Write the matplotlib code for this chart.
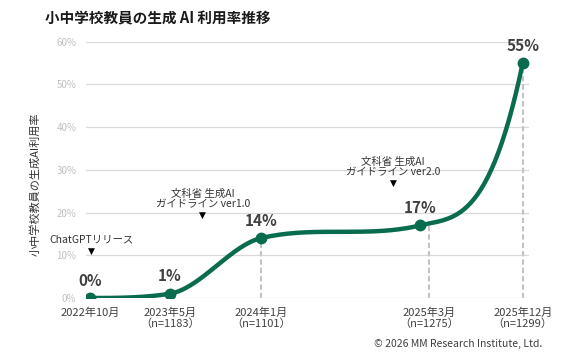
import numpy as np
import matplotlib
matplotlib.use("Agg")
import matplotlib.pyplot as plt

plt.rcParams['font.family'] = ['Noto Sans CJK JP', 'DejaVu Sans']

# ---- data ----
months = [0, 7, 15, 29, 38]            # months since 2022-10
rates = [0, 1, 14, 17, 55]             # usage rate (%)
point_labels = ['0%', '1%', '14%', '17%', '55%']
tick_months = [0, 7, 15, 29.8, 38]
tick_labels = ['2022年10月', '2023年5月\n（n=1183）', '2024年1月\n（n=1101）',
               '2025年3月\n（n=1275）', '2025年12月\n（n=1299）']
dashed_idx = [2, 3, 4]
events = ['ChatGPTリリース', '文科省 生成AI\nガイドライン ver1.0', '文科省 生成AI\nガイドライン ver2.0']
event_months = [0.1, 9.9, 26.6]
event_levels = [11.0, 19.4, 26.9]
yticks = [0, 10, 20, 30, 40, 50, 60]
ytick_labels = ['0%', '10%', '20%', '30%', '40%', '50%', '60%']

title = '小中学校教員の生成 AI 利用率推移'
ylabel = '小中学校教員の生成AI利用率'
credit = '© 2026 MM Research Institute, Ltd.'

GREEN = '#0a6c4e'


def smooth_curve(x, y, n=60):
    """Monotone (Fritsch-Carlson) cubic Hermite rendering of the series."""
    x = np.asarray(x, float); y = np.asarray(y, float)
    h = np.diff(x); d = np.diff(y) / h
    m = np.zeros_like(x)
    for k in range(1, len(x) - 1):
        if d[k - 1] * d[k] > 0:
            m[k] = min((d[k - 1] + d[k]) / 2, 3 * min(d[k - 1], d[k]))
    m[0] = 0.0
    m[-1] = 3 * d[-1]
    xs, ys = [], []
    for k in range(len(x) - 1):
        s = np.linspace(0, 1, n)
        h00 = 2 * s**3 - 3 * s**2 + 1
        h10 = s**3 - 2 * s**2 + s
        h01 = -2 * s**3 + 3 * s**2
        h11 = s**3 - s**2
        xs.append(x[k] + s * h[k])
        ys.append(h00 * y[k] + h10 * h[k] * m[k] + h01 * y[k + 1] + h11 * h[k] * m[k + 1])
    return np.concatenate(xs), np.concatenate(ys)


fig = plt.figure(figsize=(5.68, 3.6), dpi=100)
W, H = 568, 360
ax = fig.add_axes([86 / W, 1 - 298 / H, (529 - 86) / W, (298 - 41.7) / H])
ax.set_xlim(-0.35, 38.55)
ax.set_ylim(0, 60)

for s in ax.spines.values():
    s.set_visible(False)
ax.set_yticks(yticks, ytick_labels)
ax.yaxis.grid(True, color='#d9d9d9', lw=0.9)
ax.set_axisbelow(True)
ax.tick_params(axis='y', length=0, pad=7, labelsize=7, labelcolor='#c0c0c0')
ax.set_xticks(tick_months, tick_labels)
ax.tick_params(axis='x', length=0, pad=6.5, labelsize=8, labelcolor='#404040')
for lab in ax.get_xticklabels():
    lab.set_linespacing(1.1)

# dashed drop lines
for i in dashed_idx:
    ax.vlines(tick_months[i], 0, rates[i], colors='#c3c3c3', lw=1.5,
              linestyles=(0, (2.5, 1.5)), zorder=2)

xs, ys = smooth_curve(months, rates)
ax.plot(xs, ys, color=GREEN, lw=3.2, solid_capstyle='round', zorder=3)
ax.plot(months, rates, 'o', color=GREEN, ms=7.5, zorder=4)

for m, r, t in zip(months, rates, point_labels):
    ax.annotate(t, (m, r), xytext=(0, 12.5), textcoords='offset points',
                ha='center', va='center', fontsize=11, fontweight='bold',
                color='#404040', zorder=5)

for t, m, lv in zip(events, event_months, event_levels):
    ax.text(m, lv, '▼', ha='center', va='center', fontsize=6.5, color='black',
            family='DejaVu Sans')
    ax.annotate(t, (m, lv), xytext=(0, 4.5), textcoords='offset points',
                ha='center', va='bottom', fontsize=7.5, color='#333333',
                multialignment='center', linespacing=1.05)

fig.text(45 / W, 1 - 18 / H, title, fontsize=10.5, fontweight='bold',
         color='#1a1a1a', ha='left', va='center')
fig.text(35 / W, 1 - 184 / H, ylabel, rotation=90, fontsize=8, color='#333333',
         ha='center', va='center')
fig.text(542 / W, 1 - 344 / H, credit, fontsize=7.5, color='#404040',
         ha='right', va='center')

fig.savefig('out.png', dpi=100)
